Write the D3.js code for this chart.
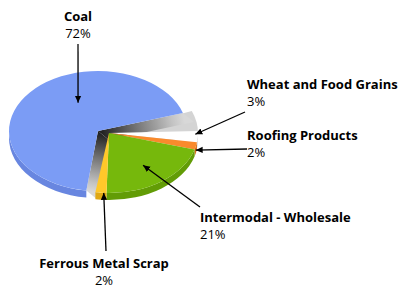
<!DOCTYPE html>
<html>
<head>
<meta charset="utf-8">
<script src="https://cdn.jsdelivr.net/npm/d3@7"></script>
<style>
  html, body { margin: 0; padding: 0; background: #fff; }
  .lbl-name { font: bold 13px "Open Sans", sans-serif; fill: #000; }
  .lbl-pct  { font: 13px "Open Sans", sans-serif; fill: #000; }
  .callout  { stroke: #000; stroke-width: 1.3; fill: none; }
</style>
</head>
<body>
<svg id="chart" width="400" height="290"></svg>
<script>
// Freight share by commodity (percent of tonnage)
const categories = ['Coal', 'Wheat and Food Grains', 'Roofing Products',
                    'Intermodal - Wholesale', 'Ferrous Metal Scrap'];
const shares     = [72, 3, 2, 21, 2];
const pctLabels  = ['72%', '3%', '2%', '21%', '2%'];
const topColors  = ['#7b9cf5', '#ffffff', '#f98a2c', '#76b80c', '#ffc82a'];
const sideColors = ['#6886e0', '#dadada', '#d8701a', '#629c06', '#e0a814'];

// ---------------------------------------------------------------------------
// Geometry of the tilted pie
// ---------------------------------------------------------------------------
const CX = 109, CY = 133;     // vertex of the slices that stay in place
const RX = 89, RY = 60;       // ellipse radii of the top face
const DEPTH = 7;              // rim thickness
const deg = Math.PI / 180;
const START = 188.8 * deg;

// the exploded coal slice sits further back, so it reads a bit narrower
// and turned (cheap stand-in for the perspective of the original)
const COAL_SHIFT = [-11, -2];
const COAL_SQUEEZE = 0.945;
const COAL_TWIST = -8.4 * deg;

// label placement: text anchor, callout start, and where the arrow lands
// (t = fraction along the slice, r = fraction of radius, dy = fraction of depth)
const labelLayout = [
  { x: 78,  y: 21,  anchor: 'middle', from: [78, 44],   t: 0.6,  r: 0.52, dy: 0 },
  { x: 247, y: 89,  anchor: 'start',  from: [245, 112], t: 0.3,  r: 0.97, dy: 0 },
  { x: 247, y: 140, anchor: 'start',  from: [247, 149], t: 0.6,  r: 1.0,  dy: 0.5 },
  { x: 200, y: 222, anchor: 'start',  from: [200, 207], t: 0.51, r: 0.66, dy: 0 },
  { x: 104, y: 268, anchor: 'middle', from: [106, 251], t: 0.25, r: 1.0,  dy: 0 }
];
const LINE_GAP = 17;

const svg = d3.select('#chart');
const defs = svg.append('defs');

defs.append('marker')
  .attr('id', 'arrow')
  .attr('viewBox', '0 0 10 10')
  .attr('refX', 10).attr('refY', 5)
  .attr('markerWidth', 7).attr('markerHeight', 7)
  .attr('markerUnits', 'userSpaceOnUse')
  .attr('orient', 'auto')
  .append('path').attr('d', 'M0,0.5 L10,5 L0,9.5 Z').attr('fill', '#000');

const pie = d3.pie().sort(null).value(d => d)
  .startAngle(START).endAngle(START + 2 * Math.PI);

// drawn angles: the coal slice gets squeezed about its middle and turned
const arcs = pie(shares).map((d, i) => {
  if (i !== 0) return { ...d, a0: d.startAngle, a1: d.endAngle, o: [CX, CY] };
  const mid = (d.startAngle + d.endAngle) / 2;
  const warp = a => mid + COAL_TWIST + (a - mid) * COAL_SQUEEZE;
  return { ...d, a0: warp(d.startAngle), a1: warp(d.endAngle),
           o: [CX + COAL_SHIFT[0], CY + COAL_SHIFT[1]] };
});

function pt(o, a, r = 1) {
  return [o[0] + r * RX * Math.sin(a), o[1] - r * RY * Math.cos(a)];
}
const fmt = p => `${p[0].toFixed(2)},${p[1].toFixed(2)}`;

function topPath(d) {
  const large = d.a1 - d.a0 > Math.PI ? 1 : 0;
  return `M${fmt(d.o)} L${fmt(pt(d.o, d.a0))} A${RX},${RY} 0 ${large} 1 ${fmt(pt(d.o, d.a1))} Z`;
}

// front-facing part of the rim: angles in [90deg, 270deg] (mod 360)
function rimPaths(d) {
  const out = [];
  for (let k = 0; k < 2; k++) {
    const lo = Math.max(d.a0, Math.PI / 2 + 2 * Math.PI * k);
    const hi = Math.min(d.a1, 3 * Math.PI / 2 + 2 * Math.PI * k);
    if (hi <= lo) continue;
    const p0 = pt(d.o, lo), p1 = pt(d.o, hi);
    out.push(`M${fmt(p0)} A${RX},${RY} 0 0 1 ${fmt(p1)} ` +
             `L${fmt([p1[0], p1[1] + DEPTH])} A${RX},${RY} 0 0 0 ${fmt([p0[0], p0[1] + DEPTH])} Z`);
  }
  return out;
}

// ---------------------------------------------------------------------------
// Gap behind the exploded slice: pale backdrop, then the coal's radial walls
// swept back to the pie centre with a dark-to-light gradient
// ---------------------------------------------------------------------------
const coal = arcs[0], co = coal.o;
const gapA0 = coal.a1 - 2 * Math.PI - 4 * deg, gapA1 = arcs[1].a0 + 2 * deg;
{
  const o = [CX, CY];
  const p0 = pt(o, gapA0), p1 = pt(o, gapA1);
  svg.append('path')
    .attr('d', `M${fmt(o)} L${fmt(p0)} A${RX},${RY} 0 0 1 ${fmt(p1)} ` +
               `L${fmt([p1[0], p1[1] + DEPTH])} L${fmt([o[0], o[1] + DEPTH])} Z`)
    .attr('fill', '#d4d4d4');
}

const sweep = [CX - co[0], CY - co[1] + DEPTH];
[coal.a1, coal.a0].forEach((a, j) => {
  const rim = pt(co, a);
  const id = `wall${j}`;
  const g = defs.append('linearGradient').attr('id', id)
    .attr('gradientUnits', 'userSpaceOnUse')
    .attr('x1', co[0]).attr('y1', co[1]).attr('x2', rim[0]).attr('y2', rim[1]);
  g.append('stop').attr('offset', 0).attr('stop-color', '#1a1a1a');
  g.append('stop').attr('offset', 0.45).attr('stop-color', '#767676');
  g.append('stop').attr('offset', 0.85).attr('stop-color', '#c2c2c2');
  g.append('stop').attr('offset', 1).attr('stop-color', '#d8d8d8');
  const q = [co, rim, [rim[0] + sweep[0], rim[1] + sweep[1]], [co[0] + sweep[0], co[1] + sweep[1]]];
  svg.append('path')
    .attr('d', 'M' + q.map(fmt).join(' L') + ' Z')
    .attr('fill', `url(#${id})`);
});

rimPaths(coal).forEach(p =>
  svg.append('path').attr('d', p).attr('fill', sideColors[0]));
svg.append('path').attr('d', topPath(coal)).attr('fill', topColors[0]);

// ---------------------------------------------------------------------------
// Remaining slices
// ---------------------------------------------------------------------------
arcs.forEach((d, i) => {
  if (i === 0) return;
  rimPaths(d).forEach(p =>
    svg.append('path').attr('d', p).attr('fill', sideColors[i]));
});
arcs.forEach((d, i) => {
  if (i === 0) return;
  svg.append('path').attr('d', topPath(d)).attr('fill', topColors[i]);
});

// ---------------------------------------------------------------------------
// Labels and callouts
// ---------------------------------------------------------------------------
arcs.forEach((d, i) => {
  const L = labelLayout[i];
  const a = d.a0 + L.t * (d.a1 - d.a0);
  const tip = pt(d.o, a, L.r);
  tip[1] += L.dy * DEPTH;

  svg.append('line').classed('callout', true)
    .attr('x1', L.from[0]).attr('y1', L.from[1])
    .attr('x2', tip[0]).attr('y2', tip[1])
    .attr('marker-end', 'url(#arrow)');

  svg.append('text').classed('lbl-name', true)
    .attr('x', L.x).attr('y', L.y)
    .attr('text-anchor', L.anchor)
    .text(categories[i]);
  svg.append('text').classed('lbl-pct', true)
    .attr('x', L.x).attr('y', L.y + LINE_GAP)
    .attr('text-anchor', L.anchor)
    .text(pctLabels[i]);
});
</script>
</body>
</html>
